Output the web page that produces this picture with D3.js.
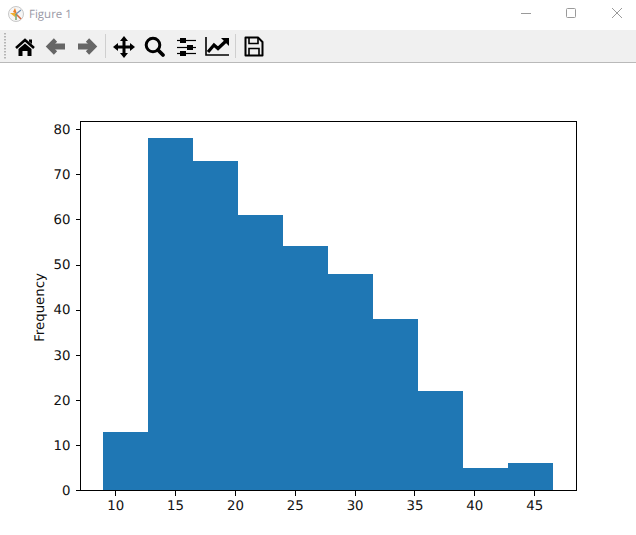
<!DOCTYPE html>
<html><head><meta charset="utf-8">
<script src="https://cdn.jsdelivr.net/npm/d3@7"></script>
<style>html,body{margin:0;padding:0;background:#fff;overflow:hidden}svg{display:block}text{font-family:"DejaVu Sans",sans-serif;text-rendering:geometricPrecision}</style>
</head><body><div id="c"></div>
<script>
const binEdges = [9, 12.76, 16.52, 20.28, 24.04, 27.8, 31.56, 35.32, 39.08, 42.84, 46.6];
const frequencies = [13, 78, 73, 61, 54, 48, 38, 22, 5, 6];
const xTicks = [10, 15, 20, 25, 30, 35, 40, 45];
const yTicks = [0, 10, 20, 30, 40, 50, 60, 70, 80];
const yLabel = "Frequency";
const windowTitle = "Figure 1";

const W = 636, H = 535;
const svg = d3.select("#c").append("svg").attr("width", W).attr("height", H).attr("viewBox", `0 0 ${W} ${H}`);
svg.append("rect").attr("width", W).attr("height", H).attr("fill", "#fff");

// window chrome
svg.append("rect").attr("x", 0).attr("y", 30).attr("width", W).attr("height", 32).attr("fill", "#f0f0f0");
svg.append("rect").attr("x", 0).attr("y", 62).attr("width", W).attr("height", 1).attr("fill", "#b9b9b9");
const logo = svg.append("g").attr("transform", "translate(16,14)");
logo.append("circle").attr("r", 7.5).attr("fill", "#f6f6f6").attr("stroke", "#c8c8c8");
logo.append("path").attr("d", "M-6,-1L0,-1L-1,3Z").attr("fill", "#f0b030");
logo.append("path").attr("d", "M-1,-6L1,0L-3,-2Z").attr("fill", "#e8802a");
logo.append("path").attr("d", "M0,0L5,5").attr("stroke", "#d86a40").attr("stroke-width", 1.6);
logo.append("path").attr("d", "M0,0L0,6").attr("stroke", "#70a060").attr("stroke-width", 1.4);
logo.append("path").attr("d", "M0,0L5,-4").attr("stroke", "#6f94b8").attr("stroke-width", 1.2);
svg.append("text").attr("x", 29).attr("y", 18).text(windowTitle)
  .style("font-family", '"Open Sans",sans-serif').style("font-size", "11.5px").attr("fill", "#9a9aa6");
svg.append("path").attr("d", "M521,13.5H531").attr("stroke", "#9a9a9a").attr("fill", "none");
svg.append("rect").attr("x", 566.5).attr("y", 8.5).attr("width", 9).attr("height", 9).attr("rx", 1).attr("fill", "none").attr("stroke", "#9a9a9a");
svg.append("path").attr("d", "M612,8L622,18M622,8L612,18").attr("stroke", "#9a9a9a").attr("fill", "none");

// toolbar
const tb = svg.append("g");
d3.range(33, 60, 3).forEach(y => tb.append("rect").attr("x", 4).attr("y", y).attr("width", 2).attr("height", 1.5).attr("fill", "#b5b5b5"));
[105.5, 235.5].forEach(x => tb.append("path").attr("d", `M${x},34V58`).attr("stroke", "#cfcfcf"));
// home
tb.append("path").attr("d", "M16,48L25,40L34,48").attr("fill", "none").attr("stroke", "#000").attr("stroke-width", 2.6);
tb.append("path").attr("d", "M29,39.5H32V44L29,41.5Z").attr("fill", "#000");
tb.append("path").attr("d", "M18.5,49L25,43.5L31.5,49V56H27.5V51H22.5V56H18.5Z").attr("fill", "#000");
// arrows
const arrow = (tip, dir) => {
  tb.append("path").attr("d", `M${tip + dir * 8.5},40L${tip + dir * 2},46.5L${tip + dir * 8.5},53`).attr("fill", "none").attr("stroke", "#666").attr("stroke-width", 4.6);
  tb.append("path").attr("d", `M${tip + dir * 3},46.5H${tip + dir * 18}`).attr("stroke", "#666").attr("stroke-width", 6);
};
arrow(47, 1);
arrow(96, -1);
// pan
tb.append("path").attr("d", "M124,36L128,41H125.5V45.5H130V43L135,47L130,51V48.5H125.5V53H128L124,58L120,53H122.5V48.5H118V51L113,47L118,43V45.5H122.5V41H120Z").attr("fill", "#000");
// zoom
tb.append("circle").attr("cx", 153).attr("cy", 45).attr("r", 6.8).attr("fill", "none").attr("stroke", "#000").attr("stroke-width", 3);
tb.append("path").attr("d", "M158,50L163,55").attr("stroke", "#000").attr("stroke-width", 3.8).attr("stroke-linecap", "round");
// sliders
[[40.5, 183], [47.5, 190], [53.5, 183]].forEach(([y, x]) => {
  tb.append("path").attr("d", `M177,${y}H196`).attr("stroke", "#000").attr("stroke-width", 1.2);
  tb.append("rect").attr("x", x - 3).attr("y", y - 2.5).attr("width", 6).attr("height", 5).attr("fill", "#000");
});
// chart icon
tb.append("path").attr("d", "M206,37V55H229").attr("fill", "none").attr("stroke", "#000").attr("stroke-width", 1.6);
tb.append("path").attr("d", "M208,52L214,45L218,48.5L226,41").attr("fill", "none").attr("stroke", "#000").attr("stroke-width", 3.2);
tb.append("path").attr("d", "M221,38H229V46Z").attr("fill", "#000");
// save
tb.append("path").attr("d", "M245.5,37.5H258L262.5,42V55.5H245.5Z").attr("fill", "none").attr("stroke", "#000").attr("stroke-width", 2).attr("stroke-linejoin", "round");
tb.append("path").attr("d", "M249,38V43.5H258V38M249,55V48.5H259V55").attr("fill", "none").attr("stroke", "#000").attr("stroke-width", 1.6);

// chart
const plot = {l: 80.5, r: 576.5, t: 121.5, b: 490.5};
const x = d3.scaleLinear().domain([7.1, 48.54]).range([plot.l, plot.r]);
const y = d3.scaleLinear().domain([0, 81.68]).range([490.3, plot.t]);

svg.append("g").attr("shape-rendering", "crispEdges").selectAll("rect").data(frequencies).join("rect")
  .attr("x", (d, i) => x(binEdges[i]))
  .attr("width", (d, i) => x(binEdges[i + 1]) - x(binEdges[i]))
  .attr("y", d => y(d))
  .attr("height", d => y(0) - y(d))
  .attr("fill", "#1f77b4");

const style = g => {
  g.selectAll("text").style("font-family", '"DejaVu Sans",sans-serif').style("font-size", "13.3px").attr("fill", "#111");
  g.selectAll("line").attr("stroke", "#000").attr("stroke-width", 1).attr("shape-rendering", "crispEdges");
  g.select(".domain").remove();
};
svg.append("g").attr("transform", `translate(0,${plot.b})`)
  .call(d3.axisBottom(x).tickValues(xTicks).tickSize(5).tickPadding(5).tickFormat(d3.format("d"))).call(style);
svg.append("g").attr("transform", `translate(${plot.l},0)`)
  .call(d3.axisLeft(y).tickValues(yTicks).tickSize(5).tickPadding(5).tickFormat(d3.format("d"))).call(style);

svg.append("rect").attr("x", plot.l).attr("y", plot.t).attr("width", plot.r - plot.l).attr("height", plot.b - plot.t)
  .attr("fill", "none").attr("stroke", "#000").attr("stroke-width", 1);

svg.append("text").attr("transform", `translate(44,${(plot.t + plot.b) / 2 + 1.5}) rotate(-90)`)
  .attr("text-anchor", "middle").style("font-size", "13.3px").attr("fill", "#111").text(yLabel);
</script></body></html>
